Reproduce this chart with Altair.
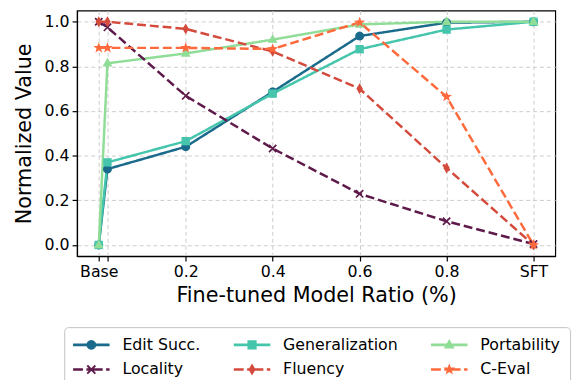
import math
import altair as alt
import pandas as pd

# ---------------- data ----------------
series = ["Edit Succ.", "Generalization", "Portability", "Locality", "Fluency", "C-Eval"]
ratios = [0.0, 0.02, 0.2, 0.4, 0.6, 0.8, 1.0]
edit_succ = [0.0, 0.34, 0.44, 0.686, 0.936, 0.996, 1.0]
generalization = [0.0, 0.37, 0.465, 0.678, 0.877, 0.965, 1.0]
portability = [0.0, 0.814, 0.858, 0.92, 0.988, 1.0, 1.0]
locality = [1.0, 0.975, 0.668, 0.432, 0.229, 0.106, 0.004]
fluency = [1.0, 1.0, 0.968, 0.867, 0.70, 0.345, 0.0]
c_eval = [0.883, 0.883, 0.883, 0.878, 0.997, 0.664, 0.0]

tick_values = [0.0, 0.02, 0.2, 0.4, 0.6, 0.8, 1.0]
tick_labels = ["Base", "", "0.2", "0.4", "0.6", "0.8", "SFT"]
y_ticks = [0.0, 0.2, 0.4, 0.6, 0.8, 1.0]

colors = ["#1a6a8c", "#45c5ac", "#8fdd97", "#5e1a4a", "#d44a3c", "#ff6a3c"]
dashes = [[1, 0], [1, 0], [1, 0], [9, 4], [9, 4], [9, 4]]
markers = ["circle", "square", "triangle", "x", "diamond", "star"]
solid = [True, True, True, False, False, False]

values = [edit_succ, generalization, portability, locality, fluency, c_eval]
rows = []
for s, vals in zip(series, values):
    for r, v in zip(ratios, vals):
        rows.append({"series": s, "ratio": r, "value": v})
df = pd.DataFrame(rows)


# ---------------- marker geometry ----------------
def orient(pts):
    a = sum(pts[i][0] * pts[(i + 1) % len(pts)][1] - pts[(i + 1) % len(pts)][0] * pts[i][1]
            for i in range(len(pts)))
    return pts if a > 0 else list(reversed(pts))


def marker_polys(kind):
    if kind == "circle":
        return [[(0.9 * math.cos(2 * math.pi * k / 24), 0.9 * math.sin(2 * math.pi * k / 24)) for k in range(24)]]
    if kind == "square":
        h = 0.85
        return [[(-h, -h), (h, -h), (h, h), (-h, h)]]
    if kind == "triangle":
        return [[(0, -1.1), (1.0, 0.65), (-1.0, 0.65)]]
    if kind == "diamond":
        return [[(0, -1.1), (0.65, 0), (0, 1.1), (-0.65, 0)]]
    if kind == "star":
        pts = []
        for k in range(10):
            r = 1.15 if k % 2 == 0 else 0.48
            ang = -math.pi / 2 + k * math.pi / 5
            pts.append((r * math.cos(ang), r * math.sin(ang)))
        return [pts]
    if kind == "x":
        out = []
        L, w = 1.05, 0.17
        for th in (math.pi / 4, -math.pi / 4):
            c, s_ = math.cos(th), math.sin(th)
            rect = [(-L, -w), (L, -w), (L, w), (-L, w)]
            out.append([(x * c - y * s_, x * s_ + y * c) for x, y in rect])
        return out
    return []


def to_path(polys, scale=1.0, dx=0.0):
    parts = []
    for p in polys:
        p = orient(p)
        pts = [(round(x * scale + dx, 3), round(y * scale, 3)) for x, y in p]
        parts.append("M" + "L".join(f"{x},{y}" for x, y in pts) + "Z")
    return "".join(parts)


marker_paths = [to_path(marker_polys(m)) for m in markers]

# legend symbol: line + marker, nominal size 14 px (7 px per unit)
LEG_PX = 7.0
LEG_DX = 9.5
legend_paths = []
for m, sol in zip(markers, solid):
    segs = [(-18.5, 18.5)] if sol else [(-18.5, -8.5), (-5.0, 11.5), (15.0, 18.5)]
    polys = []
    hw = 1.3
    for a, b in segs:
        polys.append([(a / LEG_PX, -hw / LEG_PX), (b / LEG_PX, -hw / LEG_PX),
                      (b / LEG_PX, hw / LEG_PX), (a / LEG_PX, hw / LEG_PX)])
    polys = [[(x + LEG_DX / LEG_PX, y) for x, y in p] for p in polys]
    mk = [[(x * 5.5 / LEG_PX + LEG_DX / LEG_PX, y * 5.5 / LEG_PX) for x, y in p] for p in marker_polys(m)]
    legend_paths.append(to_path(polys + mk))

label_expr = ""
for v, lab in zip(tick_values, tick_labels):
    label_expr += f"abs(datum.value - {v}) < 1e-6 ? '{lab}' : "
label_expr += "''"

xscale = alt.Scale(domain=[-0.05, 1.05], nice=False, zero=False)
yscale = alt.Scale(domain=[-0.05, 1.05], nice=False, zero=False)

x_enc = alt.X("ratio:Q", scale=xscale,
              axis=alt.Axis(values=tick_values, labelExpr=label_expr, title="Fine-tuned Model Ratio (%)",
                            labelOverlap=False, labelFlush=False))
y_enc = alt.Y("value:Q", scale=yscale,
              axis=alt.Axis(values=y_ticks, format=".1f", title="Normalized Value"))

base = alt.Chart(df).encode(x=x_enc, y=y_enc)

lines = base.mark_line(strokeWidth=2.5, strokeJoin="round").encode(
    color=alt.Color("series:N", scale=alt.Scale(domain=series, range=colors), legend=None),
    strokeDash=alt.StrokeDash("series:N", scale=alt.Scale(domain=series, range=dashes), legend=None),
)

points = base.mark_point(filled=True, size=100, opacity=1).encode(
    color=alt.Color("series:N", scale=alt.Scale(domain=series, range=colors), legend=None),
    shape=alt.Shape("series:N", scale=alt.Scale(domain=series, range=marker_paths), legend=None),
)

leg = alt.Legend(
    title=None, orient="none", legendX=-13, legendY=321, columns=3, direction="horizontal",
    symbolSize=196, symbolStrokeWidth=0, symbolOpacity=1, labelOffset=33,
    columnPadding=32, rowPadding=9, padding=10,
    labelFont="DejaVu Sans", labelFontSize=16, labelColor="black",
    strokeColor="#c4c4c4", fillColor="white", cornerRadius=4,
)

legend_layer = base.mark_point(filled=True, size=196, opacity=1).encode(
    color=alt.Color("series:N", scale=alt.Scale(domain=series, range=colors), legend=leg),
    shape=alt.Shape("series:N", scale=alt.Scale(domain=series, range=legend_paths), legend=leg),
).transform_filter("datum.ratio < -10")

chart = alt.layer(lines, points, legend_layer).resolve_scale(
    color="independent", shape="independent", strokeDash="independent"
).properties(
    width=485, height=249,
    padding={"left": 70, "top": 0, "right": 19, "bottom": 123},
    autosize=alt.AutoSizeParams(type="none"),
).configure_view(
    stroke="black", strokeWidth=1.2
).configure_axis(
    labelFont="DejaVu Sans", titleFont="DejaVu Sans",
    labelFontSize=16, titleFontSize=21, titleFontWeight="normal",
    labelColor="black", titleColor="black",
    domainColor="black", domainWidth=1.2,
    tickColor="black", tickSize=5, tickWidth=1.2,
    grid=True, gridColor="#cccccc", gridDash=[4, 3], gridWidth=1,
    labelPadding=3,
).configure_axisX(titlePadding=5).configure_axisY(titlePadding=10)

chart.save("out.html", embed_options={"renderer": "svg", "actions": False})
